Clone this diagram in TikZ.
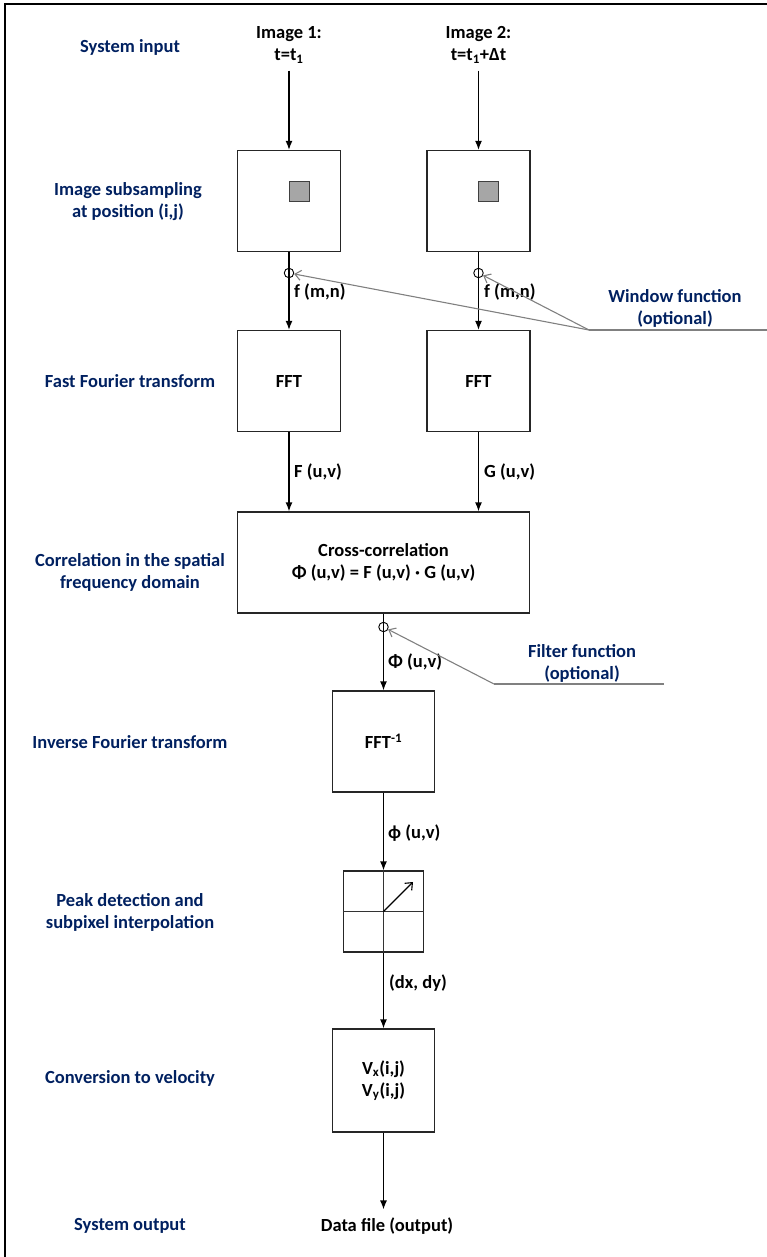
\documentclass[tikz,border=0pt]{standalone}
\usepackage{fontspec}
\setmainfont{Carlito}
\usetikzlibrary{arrows.meta,positioning}
\definecolor{labelnavy}{RGB}{0,32,96}
\definecolor{optgrey}{RGB}{128,128,128}
\definecolor{patchgrey}{RGB}{166,166,166}
\tikzset{
  base/.style={font=\fontsize{18.5}{22}\selectfont\bfseries, align=center, inner sep=0pt, text=black},
  side/.style={base, text=labelnavy},
  box/.style={base, rectangle, draw=black!85, line width=1.3pt, fill=white, minimum width=103pt, minimum height=101pt},
  patch/.style={rectangle, draw=black!75, line width=1pt, fill=patchgrey, minimum width=20pt, minimum height=20pt, inner sep=0pt},
  tap/.style={circle, draw=black, line width=0.9pt, minimum size=9.5pt, inner sep=0pt},
  lbl/.style={base, anchor=west},
  arr/.style={-{Latex[length=9pt,width=7pt]}, line width=1.3pt, draw=black},
  optline/.style={line width=1.1pt, draw=optgrey},
  optarr/.style={optline, -{Straight Barb[length=6pt,width=10pt]}},
  gridline/.style={line width=1pt, draw=black!80},
}
\begin{document}
\begin{tikzpicture}[x=1pt,y=-1pt]
  \useasboundingbox (0,0) rectangle (767,1257);
  \draw[line width=2.5pt] (5,1257) -- (5,4) -- (767,4);
  % stage captions
  \node[side] at (130,47) {System input};
  \node[side] at (128,202) {Image subsampling\\at position (i,j)};
  \node[side] at (130,381) {Fast Fourier transform};
  \node[side] at (130,572) {Correlation in the spatial\\frequency domain};
  \node[side] at (130,742) {Inverse Fourier transform};
  \node[side] at (130,912) {Peak detection and\\subpixel interpolation};
  \node[side] at (130,1078) {Conversion to velocity};
  \node[side] at (130,1226) {System output};
  % inputs
  \node[base] (in1) at (289,45) {Image 1:\\t=t\textsubscript{1}};
  \node[base] (in2) at (478.5,45) {Image 2:\\t=t\textsubscript{1}+Δt};
  % subsampling
  \node[box] (sub1) at (289,201) {};
  \node[box] (sub2) at (478.5,201) {};
  \node[patch] (win1) at (299,192) {};
  \node[patch] (win2) at (488.5,192) {};
  \draw[arr] ([yshift=-7pt]in1.south) -- (sub1.north);
  \draw[arr] ([yshift=-7pt]in2.south) -- (sub2.north);
  % fft
  \node[box] (fft1) at (289,381) {FFT};
  \node[box] (fft2) at (478.5,381) {FFT};
  \draw[arr] (sub1) -- (fft1);
  \draw[arr] (sub2) -- (fft2);
  \node[tap] (w1) at (289,273) {};
  \node[tap] (w2) at (478.5,273) {};
  \node[lbl] at (294,292) {f (m,n)};
  \node[lbl] at (484,292) {f (m,n)};
  \coordinate (wbend) at (589,330);
  \coordinate (wend) at (767,330);
  \draw[optline] (wend) -- (wbend);
  \draw[optarr] (wbend) -- (w1);
  \draw[optarr] (wbend) -- (w2);
  \node[side] at (675,308) {Window function\\(optional)};
  % correlation
  \node[box, minimum width=292pt] (xcorr) at (383.5,562.5) {Cross-correlation\\Φ (u,v) = F (u,v) · G (u,v)};
  \draw[arr] (fft1) -- (fft1 |- xcorr.north);
  \draw[arr] (fft2) -- (fft2 |- xcorr.north);
  \node[lbl] at (294,472) {F (u,v)};
  \node[lbl] at (484,472) {G (u,v)};
  % inverse fft
  \node[box, minimum width=102pt] (ifft) at (383.5,741.5) {FFT\textsuperscript{-1}};
  \draw[arr] (xcorr) -- (ifft);
  \node[tap] (ftap) at (383.5,627) {};
  \node[lbl] at (388,662) {Φ (u,v)};
  \coordinate (fbend) at (494,684);
  \coordinate (fend) at (664,684);
  \draw[optline] (fend) -- (fbend);
  \draw[optarr] (fbend) -- (ftap);
  \node[side] at (582,663) {Filter function\\(optional)};
  % peak detection
  \node[box, minimum width=80pt, minimum height=81pt] (peak) at (383.5,911.5) {};
  \draw[gridline] (peak.north) -- (peak.south);
  \draw[gridline] (peak.west) -- (peak.east);
  \coordinate (shift) at (413,882);
  \draw[line width=1.1pt, -{Straight Barb[length=6pt,width=10pt]}] (peak.center) -- (shift);
  \draw[arr] (ifft) -- (peak);
  \node[lbl] at (388,833) {ϕ (u,v)};
  % velocity
  \node[box, minimum width=102pt, minimum height=103pt] (vel) at (383.5,1080.5) {V\textsubscript{x}(i,j)\\V\textsubscript{y}(i,j)};
  \draw[arr] (peak) -- (vel);
  \node[lbl] at (389,983) {(dx, dy)};
  % output
  \node[base] (out) at (387,1226) {Data file (output)};
  \draw[arr] (vel) -- ([yshift=8pt]vel |- out.north);
\end{tikzpicture}
\end{document}
